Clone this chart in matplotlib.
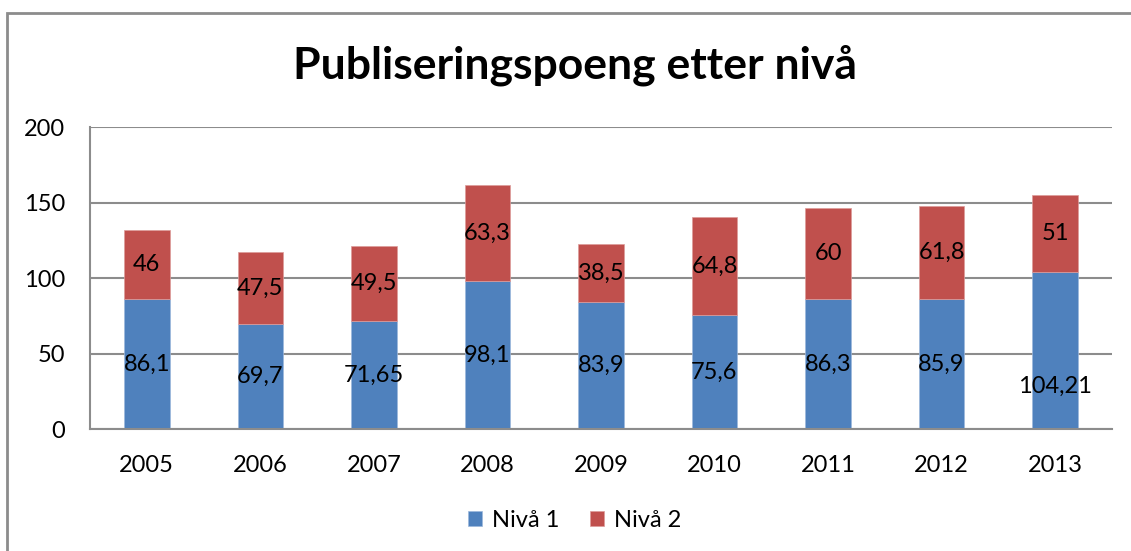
import matplotlib
matplotlib.use("Agg")
import matplotlib.pyplot as plt
from matplotlib.patches import Rectangle
import numpy as np

years = ["2005", "2006", "2007", "2008", "2009", "2010", "2011", "2012", "2013"]
niva1 = [86.1, 69.7, 71.65, 98.1, 83.9, 75.6, 86.3, 85.9, 104.21]
niva2 = [46, 47.5, 49.5, 63.3, 38.5, 64.8, 60, 61.8, 51]
niva1_labels = ["86,1", "69,7", "71,65", "98,1", "83,9", "75,6", "86,3", "85,9", "104,21"]
niva2_labels = ["46", "47,5", "49,5", "63,3", "38,5", "64,8", "60", "61,8", "51"]

BLUE = "#4F81BD"
RED = "#C0504D"
GRID = "#8c8c8c"
FS = 17

plt.rcParams["font.family"] = ["Lato", "DejaVu Sans"]

fig = plt.figure(figsize=(11.31, 5.51), dpi=100)
ax = fig.add_axes([0.0796, 0.2214, 0.9035, 0.5481])

x = np.arange(len(years))
ax.bar(x, niva1, width=0.4, color=BLUE, edgecolor="#9db8dc", linewidth=0.5, label="Nivå 1", zorder=2)
ax.bar(x, niva2, width=0.4, bottom=niva1, color=RED, edgecolor="#dd9c9a", linewidth=0.5, label="Nivå 2", zorder=2)

# labels sit in the middle of each segment; the 2013 blue one was nudged down in the original
for i in range(len(years)):
    y1 = niva1[i] / 2
    if years[i] == "2013":
        y1 -= 24
    ax.text(x[i], y1, niva1_labels[i], ha="center", va="center", fontsize=FS, zorder=3)
    ax.text(x[i], niva1[i] + niva2[i] / 2, niva2_labels[i], ha="center", va="center", fontsize=FS, zorder=3)

ax.set_xlim(-0.5, len(years) - 0.5)
ax.set_ylim(0, 200)
ax.set_yticks([0, 50, 100, 150, 200])
ax.set_xticks(x)
ax.set_xticklabels(years)
ax.tick_params(axis="both", length=0, labelsize=FS)
ax.tick_params(axis="x", pad=19)
ax.tick_params(axis="y", pad=18)
ax.yaxis.grid(True, color=GRID, linewidth=1.5)
ax.set_axisbelow(True)
for side in ["top", "right"]:
    ax.spines[side].set_visible(False)
for side in ["left", "bottom"]:
    ax.spines[side].set_color(GRID)
    ax.spines[side].set_linewidth(1.5)

fig.text(0.508, 0.882, "Publiseringspoeng etter nivå", ha="center", va="center",
         fontsize=32, fontweight="bold")

fig.legend(loc="center", bbox_to_anchor=(0.508, 0.056), ncol=2, frameon=False,
           fontsize=FS, handlelength=0.6, handleheight=0.6, handletextpad=0.4,
           columnspacing=1.3)

# outer chart border (right and bottom fall outside the image)
fig.patches.append(Rectangle((7 / 1131, -0.1), 1.2, (551 - 13) / 551 + 0.1,
                             transform=fig.transFigure, fill=False,
                             edgecolor=GRID, linewidth=2, clip_on=False))

fig.savefig("out.png", dpi=100)
